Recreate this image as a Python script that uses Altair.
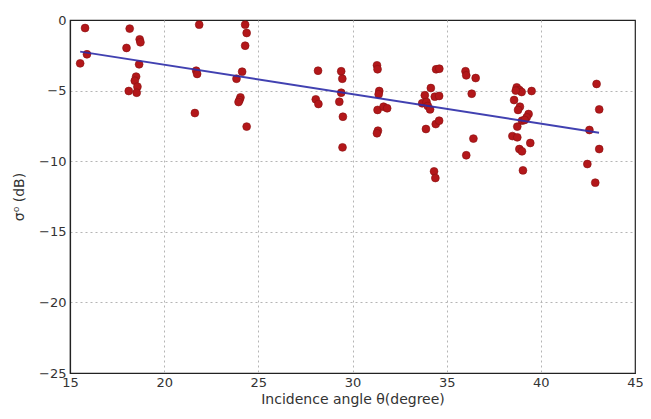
import altair as alt
import pandas as pd

# Scatter points: incidence angle (deg) and sigma0 (dB)
angle = [15.54, 15.8, 15.9, 18.17, 18.0, 18.7, 18.74, 18.67, 18.51, 18.44, 18.58, 18.12, 18.54,
         21.86, 21.7, 21.75, 21.63, 24.3, 24.38, 24.3, 24.14, 23.84, 24.05, 24.0, 23.95, 24.38,
         28.17, 28.05, 28.19, 29.4, 29.46, 29.4, 29.3, 29.49, 29.47,
         31.3, 31.33, 31.42, 31.39, 31.33, 31.65, 31.84, 31.35, 31.3,
         34.16, 33.84, 34.37, 34.6, 33.7, 33.93, 34.0, 34.12, 34.44, 34.61, 33.9, 34.42, 34.6, 34.33, 34.4,
         36.0, 36.04, 36.54, 36.33, 36.42, 36.04,
         38.72, 38.86, 38.98, 38.67, 39.51, 38.58, 38.89, 38.79, 39.35, 39.25, 39.0, 39.14, 38.75,
         38.49, 38.75, 39.44, 38.86, 39.0, 39.05,
         42.96, 43.1, 42.58, 43.1, 42.47, 42.89]
sigma0 = [-3.07, -0.57, -2.43, -0.61, -1.98, -1.37, -1.58, -3.14, -4.01, -4.3, -4.72, -5.03, -5.15,
          -0.33, -3.59, -3.82, -6.59, -0.33, -0.92, -1.82, -3.66, -4.16, -5.48, -5.67, -5.81, -7.55,
          -3.59, -5.62, -5.95, -3.63, -4.16, -5.15, -5.79, -6.85, -9.02,
          -3.21, -3.49, -5.03, -5.26, -6.37, -6.14, -6.25, -7.84, -8.02,
          -4.82, -5.33, -5.43, -5.38, -5.9, -5.81, -6.09, -6.33, -3.49, -3.45, -7.72, -7.37, -7.13, -10.72, -11.19,
          -3.63, -3.92, -4.11, -5.22, -8.4, -9.58,
          -4.77, -4.96, -5.1, -5.0, -5.03, -5.67, -6.14, -6.37, -6.66, -6.89, -7.13, -7.08, -7.55,
          -8.22, -8.31, -8.71, -9.14, -9.3, -10.65,
          -4.53, -6.33, -7.79, -9.14, -10.2, -11.52]

# Fitted line endpoints
line_x = [15.54, 43.09]
line_y = [-2.24, -7.98]

x_ticks = [15, 20, 25, 30, 35, 40, 45]
y_ticks = [-25, -20, -15, -10, -5, 0]

pts = pd.DataFrame({"angle": angle, "sigma0": sigma0})
fit = pd.DataFrame({"angle": line_x, "sigma0": line_y})

xscale = alt.Scale(domain=[15, 45], nice=False, zero=False)
yscale = alt.Scale(domain=[-25, 0], nice=False, zero=False)

xaxis = alt.Axis(values=x_ticks, format="d", title="Incidence angle θ(degree)",
                 grid=True, gridDash=[2, 3], gridColor="#b5b5b5",
                 gridOpacity=alt.condition("datum.value === 15 || datum.value === 45",
                                           alt.value(0), alt.value(1)),
                 labelFlush=False, tickSize=0, labelPadding=3, titlePadding=3)
yaxis = alt.Axis(values=y_ticks, format="d", title="σ⁰ (dB)",
                 grid=True, gridDash=[2, 3], gridColor="#b5b5b5",
                 gridOpacity=alt.condition("datum.value === 0 || datum.value === -25",
                                           alt.value(0), alt.value(1)),
                 labelFlush=False, tickSize=0, labelPadding=4, titlePadding=12)

points = alt.Chart(pts).mark_circle(size=62, opacity=1, color="#b3171a",
                                    stroke="#8a1010", strokeWidth=0.6).encode(
    x=alt.X("angle:Q", scale=xscale, axis=xaxis),
    y=alt.Y("sigma0:Q", scale=yscale, axis=yaxis),
)

line = alt.Chart(fit).mark_line(color="#2c2ca8", strokeWidth=2, opacity=0.9).encode(
    x=alt.X("angle:Q", scale=xscale),
    y=alt.Y("sigma0:Q", scale=yscale),
)

chart = alt.layer(points, line).properties(
    width=565, height=353,
    autosize=alt.AutoSizeParams(type="none"),
    padding={"left": 62, "top": 12, "right": 8, "bottom": 38},
    background="white",
).configure_view(
    stroke="#222222", strokeWidth=1.2
).configure_axis(
    domainColor="#222222", domainWidth=1.2,
    labelFont="DejaVu Sans", labelFontSize=13, labelColor="#333333",
    titleFont="DejaVu Sans", titleFontSize=14, titleFontWeight="normal", titleColor="#333333",
)

chart.save("out.html", embed_options={"renderer": "svg", "actions": False})
